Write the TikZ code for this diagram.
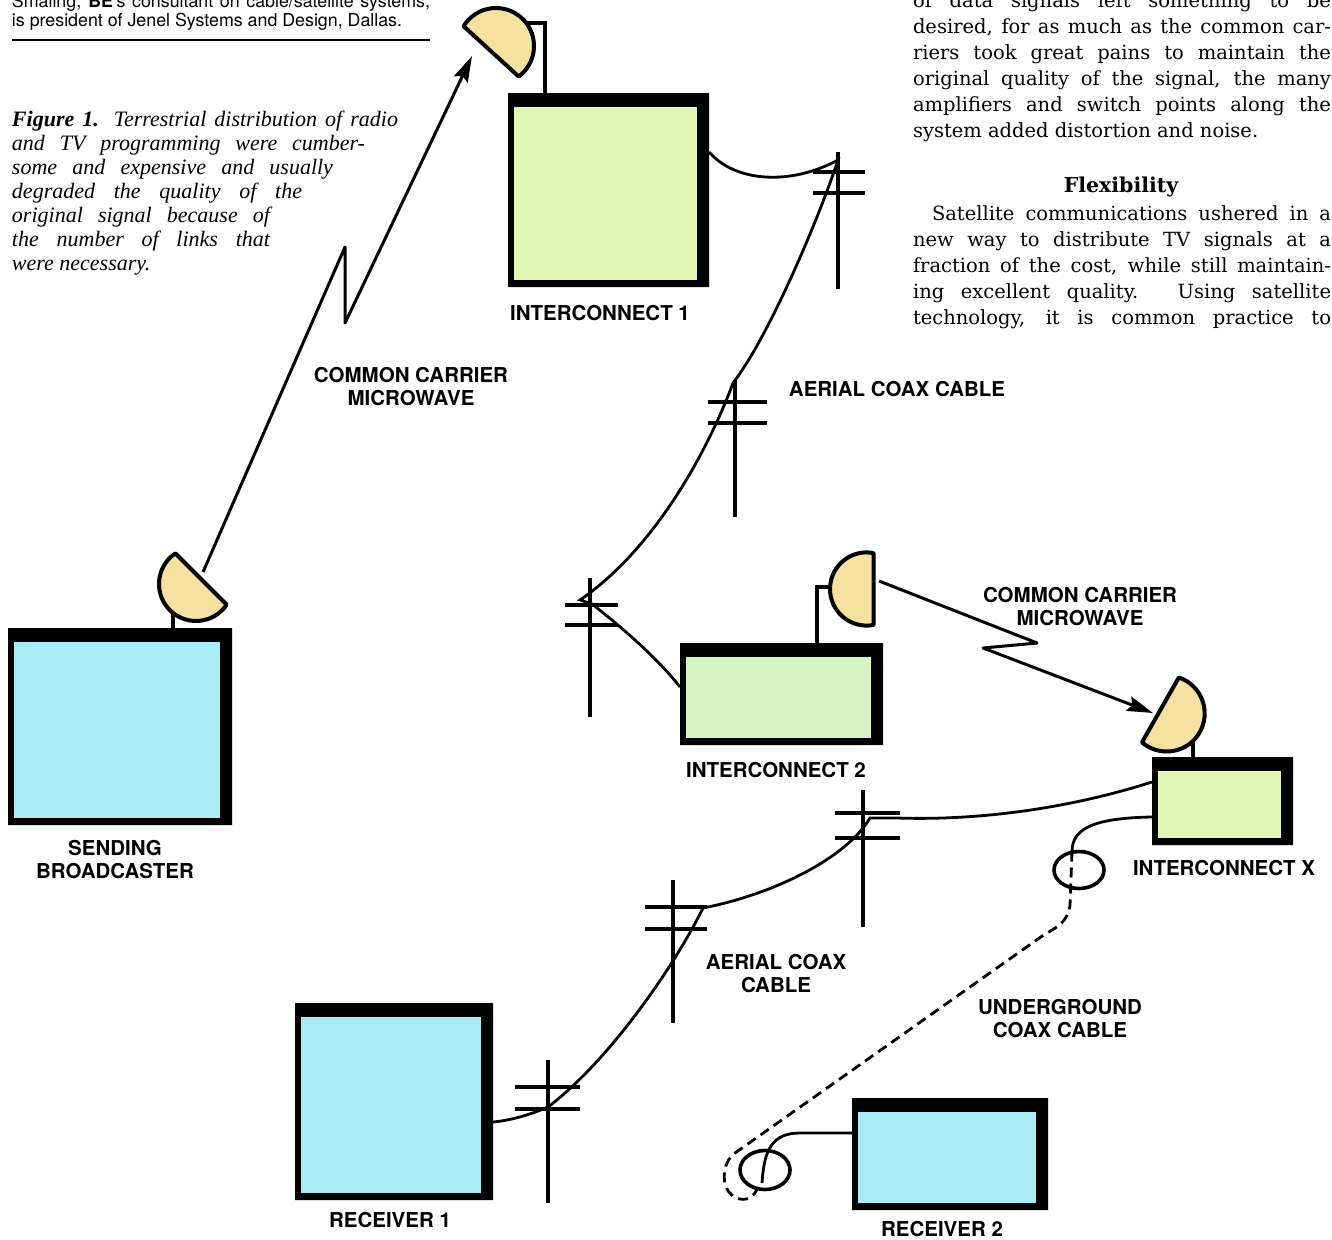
\documentclass[tikz,border=0pt]{standalone}
\usepackage{fontspec}
\setsansfont{TeX Gyre Heros}
\newfontfamily\capfont{Liberation Serif}
\newfontfamily\bodyfont{DejaVu Serif}
\usetikzlibrary{arrows.meta, positioning, shapes.misc, shapes.geometric}

\definecolor{tvgreen}{RGB}{226,246,180}
\definecolor{tvmint}{RGB}{214,244,196}
\definecolor{tvcyan}{RGB}{168,236,244}
\definecolor{dishtan}{RGB}{246,226,160}

\begin{document}
\begin{tikzpicture}[x=1pt, y=-1pt,
  every node/.style={inner sep=0pt, outer sep=0pt},
  tv/.style={chamfered rectangle, chamfered rectangle corners=north west,
             chamfered rectangle xsep=6pt, chamfered rectangle ysep=6pt,
             fill=black,
             path picture={\fill[#1]
               ([xshift=6pt, yshift=-14pt]path picture bounding box.north west) rectangle
               ([xshift=-12pt, yshift=7pt]path picture bounding box.south east);}},
  lbl/.style={font=\sffamily\bfseries\fontsize{20.5}{23}\selectfont, align=center},
  body/.style={anchor=base west, text width=420pt, align=justify,
               font=\bodyfont\fontsize{19.5}{26}\selectfont},
  dish/.style={fill=dishtan, draw=black, line width=4pt, line join=round},
  mast/.style={line width=3.4pt},
  micro/.style={line width=3pt, line join=round,
                -{Stealth[length=26pt, width=15pt, inset=4pt]}},
  cable/.style={line width=2.8pt},
  buried/.style={line width=2.8pt, dash pattern=on 10pt off 6pt},
  post/.style={line width=4pt},
  coil/.style={draw, ellipse, line width=3.6pt, minimum width=50pt, minimum height=37pt},
]

\useasboundingbox (0,0) rectangle (1332,1239);
\fill[white] (0,0) rectangle (1332,1239);

% dish: centre, facing angle, radius
\def\dish#1#2#3{\filldraw[dish, shift={#1}, rotate=#2]
  (79:#3pt) arc[start angle=79, end angle=281, radius=#3pt] -- cycle;}

% Page text around the figure
\node[anchor=base west, text width=418pt, align=justify,
      font=\sffamily\fontsize{17.8}{16.5}\selectfont] (byline) at (12,8)
  {Smaling, \textbf{BE}'s consultant on cable/satellite systems,\linebreak
   is president of Jenel Systems and Design, Dallas.};
\draw[line width=1.4pt] (12,40) -- (430,40);

\node[anchor=base west, text width=400pt, align=justify,
      font=\capfont\itshape\fontsize{22}{24}\selectfont] (caption) at (12,126)
  {\makebox[386pt][s]{\textbf{Figure 1.} Terrestrial distribution of radio}\\
   \makebox[353pt][s]{and TV programming were cumber-}\\
   \makebox[321pt][s]{some and expensive and usually}\\
   \makebox[290pt][s]{degraded the quality of the}\\
   \makebox[258pt][s]{original signal because of}\\
   \makebox[258pt][s]{the number of links that}\\
   were necessary.};

\node[body] (colA) at (913,8)
  {\makebox[418pt][s]{of data signals left something to be}\\
   \makebox[418pt][s]{desired, for as much as the common car-}\\
   \makebox[418pt][s]{riers took great pains to maintain the}\\
   \makebox[418pt][s]{original quality of the signal, the many}\\
   \makebox[418pt][s]{amplifiers and switch points along the}\\
   system added distortion and noise.};
\node[anchor=base, font=\bodyfont\bfseries\fontsize{20.5}{26}\selectfont] (flex) at (1121,192) {Flexibility};
\node[body] (colB) at (913,220)
  {\hspace*{19pt}\makebox[399pt][s]{Satellite communications ushered in a}\\
   \makebox[418pt][s]{new way to distribute TV signals at a}\\
   \makebox[418pt][s]{fraction of the cost, while still maintain-}\\
   \makebox[418pt][s]{ing excellent quality. Using satellite}\\
   \makebox[418pt][s]{technology, it is common practice to}};

% Stations
\node[tv=tvcyan,  minimum width=224pt, minimum height=197pt] (send) at (120,726.5) {};
\node[tv=tvgreen, minimum width=201pt, minimum height=194pt] (ic1)  at (608.5,190) {};
\node[tv=tvmint,  minimum width=203pt, minimum height=102pt] (ic2)  at (781.5,694) {};
\node[tv=tvgreen, minimum width=141pt, minimum height=88pt]  (icx)  at (1222.5,801) {};
\node[tv=tvcyan,  minimum width=198pt, minimum height=197pt] (rec1) at (394,1101.5) {};
\node[tv=tvcyan,  minimum width=196pt, minimum height=112pt] (rec2) at (950,1154) {};

\node[lbl, below=15pt of send, xshift=-5pt] (sendLabel) {SENDING\\BROADCASTER};
\node[lbl, below=18pt of ic1, xshift=-8.5pt] (ic1Label) {INTERCONNECT 1};
\node[lbl, below=17pt of ic2, xshift=-5.5pt] (ic2Label) {INTERCONNECT 2};
\node[lbl, below=15pt of icx, xshift=1.5pt] (icxLabel) {INTERCONNECT X};
\node[lbl, below=12pt of rec1, xshift=-4pt] (rec1Label) {RECEIVER 1};
\node[lbl, below=11pt of rec2, xshift=-8pt] (rec2Label) {RECEIVER 2};

% Dish masts
\draw[mast] ([xshift=53pt]send.north) -- ++(0,-30);
\draw[mast] ([xshift=-63.5pt]ic1.north) -- ++(0,-70) -- ++(-30,0);
\draw[mast] ([xshift=35.5pt]ic2.north) -- ++(0,-56) -- ++(28,0);
\draw[mast] ([xshift=-29.5pt]icx.north) -- ++(0,-25);

% Dishes
\dish{(196,584)}{45}{37}
\dish{(496,46)}{227.6}{38}
\dish{(866.6,589)}{0}{36.6}
\dish{(1166.7,713.5)}{150.4}{38}

\coordinate (sendDish) at (203,572);
\coordinate (ic1Dish)  at (472,56);
\coordinate (ic2Dish)  at (879,581);
\coordinate (icxDish)  at (1153,713);

% Microwave hops
\draw[micro] (sendDish) -- (345,247) -- (345,323) -- (ic1Dish);
\draw[micro] (ic2Dish) -- (1037,643) -- (983,648) -- (icxDish);
\node[lbl] (mw1Label) at (411,387) {COMMON CARRIER\\MICROWAVE};
\node[lbl] (mw2Label) at (1080,607) {COMMON CARRIER\\MICROWAVE};

% Utility poles: x / top / bar 1 / bar 2 / foot / bar left / bar right
\foreach \x/\t/\a/\b/\e/\l/\r in {838/152/172/193/289/813/865,
    735/380/402/423/517/708/767, 590/578/605/625/717/565/618,
    863/790/813/838/927/835/900, 673/880/907/929/1023/645/707,
    548/1060/1087/1109/1203/515/580}
{
  \draw[post] (\x,\t) -- (\x,\e);
  \draw[post] (\l,\a) -- (\r,\a) (\l,\b) -- (\r,\b);
}

\coordinate (p1) at (838,160);
\coordinate (p2) at (733,383);
\coordinate (p3) at (580,600);
\coordinate (p4) at (870,818);
\coordinate (p5) at (703,908);
\coordinate (p6) at (548,1107);

% Aerial coax
\draw[cable] ([yshift=38pt]ic1.east) .. controls (735,182) and (790,186) .. (p1)
  .. controls (820,215) and (770,335) .. (p2)
  .. controls (712,440) and (660,545) .. (p3) -- (592,604)
  .. controls (615,622) and (655,655) .. ([yshift=7pt]ic2.west);
\draw[cable] ([yshift=19pt]icx.west) .. controls (1080,805) and (990,821) .. (897,818) -- (p4)
  .. controls (845,860) and (770,895) .. (p5)
  .. controls (675,965) and (610,1060) .. (p6)
  .. controls (525,1117) and (505,1121) .. ([yshift=-20.5pt]rec1.east);
\node[lbl] (aerial1Label) at (897,389) {AERIAL COAX CABLE};
\node[lbl] (aerial2Label) at (776,974) {AERIAL COAX\\CABLE};

% Underground coax
\node[coil] (coilX) at (1079,870) {};
\node[coil, minimum height=39pt] (coil2) at (765,1170) {};
\draw[cable] ([yshift=-16pt]icx.west) .. controls (1095,818) and (1072,828) .. ([xshift=-7pt]coilX.north);
\draw[buried] ([xshift=-7pt]coilX.north) -- (1070,905)
  .. controls (1068,920) and (1060,926) .. (1045,934) -- (735,1153)
  .. controls (721,1163) and (721,1188) .. (733,1196)
  .. controls (742,1202) and (752,1200) .. ([xshift=-8pt]coil2.south);
\draw[cable] ([yshift=21pt]rec2.west) -- (800,1133) .. controls (772,1133) and (764,1150) .. (762,1183);
\node[lbl] (buriedLabel) at (1060,1019) {UNDERGROUND\\COAX CABLE};

\end{tikzpicture}
\end{document}
